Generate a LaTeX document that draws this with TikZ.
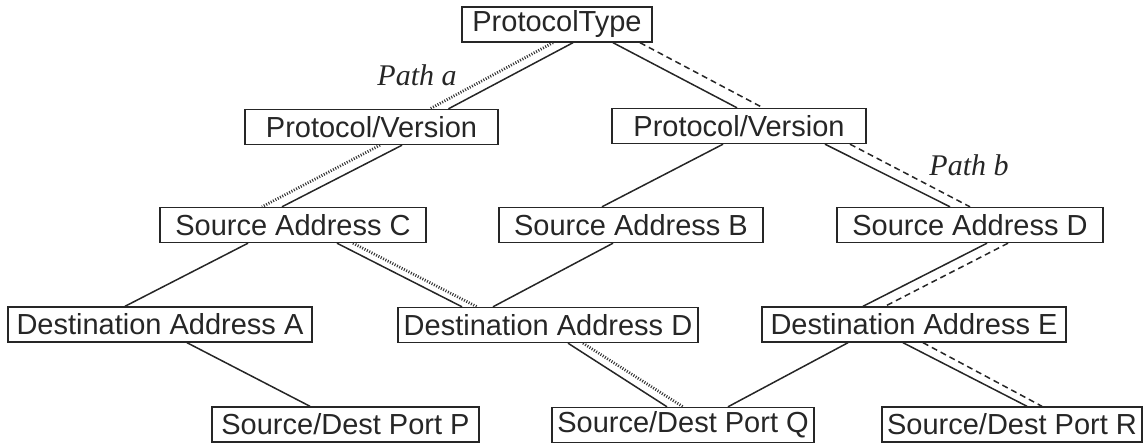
\documentclass[tikz,border=0pt]{standalone}
\usepackage{fontspec}
\newfontfamily\boxfont{Liberation Sans}
\newfontfamily\pathfont{Liberation Serif}
\tikzset{
  box/.style={draw=black!85, line width=0.7pt, minimum height=17.5pt, inner sep=0pt,
    font=\boxfont\fontsize{14.5}{16}\selectfont, text=black!85},
  link/.style={draw=black!85, line width=0.75pt},
  patha/.style={draw=black!80, line width=1.4pt, dash pattern=on 0.5pt off 0.8pt},
  pathb/.style={draw=black!85, line width=0.75pt, dash pattern=on 3pt off 2pt},
  plabel/.style={font=\pathfont\itshape\fontsize{15}{17}\selectfont, text=black!85, inner sep=0pt}
}
\begin{document}
\begin{tikzpicture}[x=0.5pt,y=-0.5pt]
\useasboundingbox (0,0) rectangle (1146,443);
% nodes
\node[box, minimum width=95pt]    (PT)  at (557,24.5)  {ProtocolType};
\node[box, minimum width=126.5pt] (PVL) at (371.5,127) {Protocol/Version};
\node[box, minimum width=127pt]   (PVR) at (739,126)   {Protocol/Version};
\node[box, minimum width=133pt]   (SAC) at (293,225)   {Source Address C};
\node[box, minimum width=132pt]   (SAB) at (631,225)   {Source Address B};
\node[box, minimum width=133pt]   (SAD) at (970,225)   {Source Address D};
\node[box, minimum width=152pt]   (DAA) at (160,324.5) {Destination Address A};
\node[box, minimum width=150pt]   (DAD) at (548,325)   {Destination Address D};
\node[box, minimum width=152pt]   (DAE) at (914,324.5) {Destination Address E};
\node[box, minimum width=133.5pt] (PP)  at (345.5,424.5) {Source/Dest Port P};
\node[box, minimum width=131pt]   (PQ)  at (683,425)   {Source/Dest Port Q};
\node[box, minimum width=130pt]   (PR)  at (1012,424.5) {Source/Dest Port R};
% labels
\node[plabel] (La) at (417,75)  {Path a};
\node[plabel] (Lb) at (969,165) {Path b};
% solid links
\draw[link] ([xshift=8pt]PT.south)    -- ([xshift=38.5pt]PVL.north);
\draw[link] ([xshift=28pt]PT.south)   -- ([xshift=-1pt]PVR.north);
\draw[link] ([xshift=15.25pt]PVL.south) -- ([xshift=-5.5pt]SAC.north);
\draw[link] ([xshift=-8pt]PVR.south)  -- ([xshift=-14.5pt]SAB.north);
\draw[link] ([xshift=43pt]PVR.south)  -- ([xshift=-10pt]SAD.north);
\draw[link] ([xshift=-22.5pt]SAC.south) -- ([xshift=-17.5pt]DAA.north);
\draw[link] ([xshift=22pt]SAC.south)  -- ([xshift=-43pt]DAD.north);
\draw[link] ([xshift=-9pt]SAB.south)  -- ([xshift=-27.5pt]DAD.north);
\draw[link] ([xshift=8.5pt]SAD.south) -- ([xshift=-25.5pt]DAE.north);
\draw[link] ([xshift=13.5pt]DAA.south) -- ([xshift=-17.75pt]PP.north);
\draw[link] ([xshift=10pt]DAD.south)  -- ([xshift=-8pt]PQ.north);
\draw[link] ([xshift=-33pt]DAE.south) -- ([xshift=22.5pt]PQ.north);
\draw[link] ([xshift=-5.5pt]DAE.south) -- ([xshift=7.5pt]PR.north);
% path a (dotted)
\draw[patha] ([xshift=-2pt]PT.south)   -- ([xshift=29.25pt]PVL.north);
\draw[patha] ([xshift=4.25pt]PVL.south) -- ([xshift=-15.5pt]SAC.north);
\draw[patha] ([xshift=30pt]SAC.south)  -- ([xshift=-35.5pt]DAD.north);
\draw[patha] ([xshift=17.5pt]DAD.south) -- ([xshift=0pt]PQ.north);
% path b (dashed)
\draw[pathb] ([xshift=41.5pt]PT.south) -- ([xshift=12pt]PVR.north);
\draw[pathb] ([xshift=55.5pt]PVR.south) -- ([xshift=0pt]SAD.north);
\draw[pathb] ([xshift=19pt]SAD.south) -- ([xshift=-14.5pt]DAE.north);
\draw[pathb] ([xshift=4.5pt]DAE.south) -- ([xshift=15pt]PR.north);
\end{tikzpicture}
\end{document}
